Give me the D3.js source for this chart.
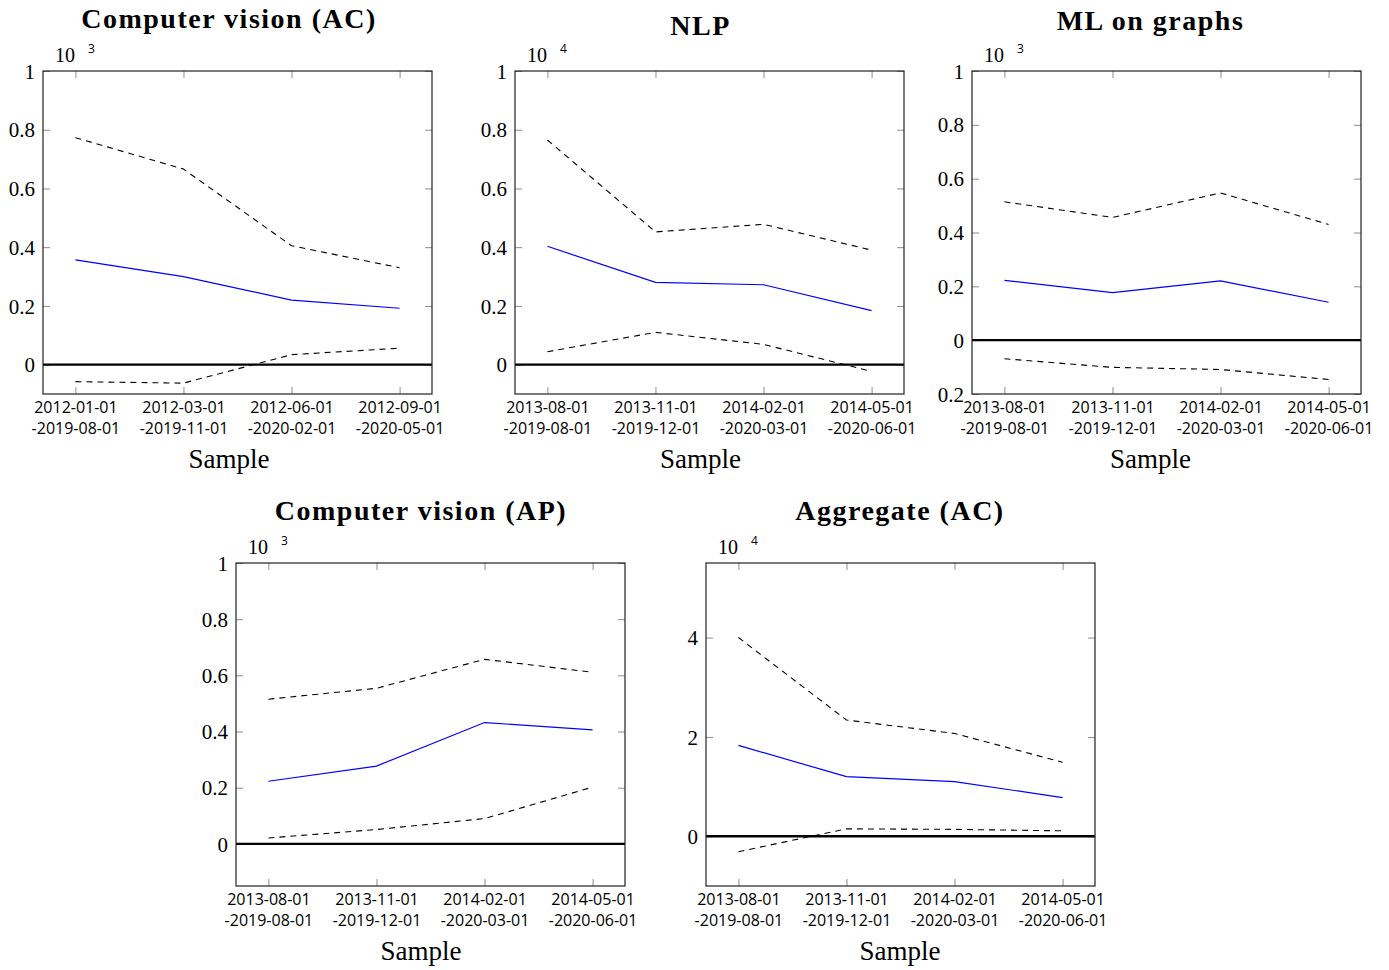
<!DOCTYPE html>
<html>
<head>
<meta charset="utf-8">
<script src="https://cdn.jsdelivr.net/npm/d3@7"></script>
<style>
  body { margin: 0; background: #fff; }
  svg { display: block; }
  .tick line { stroke: #8c8c8c; stroke-width: 1; }
</style>
</head>
<body>
<div id="chart"></div>
<script>
// ---- data ----
const cvAcStart = ["2012-01-01", "2012-03-01", "2012-06-01", "2012-09-01"];
const cvAcEnd   = ["-2019-08-01", "-2019-11-01", "-2020-02-01", "-2020-05-01"];
const otherStart = ["2013-08-01", "2013-11-01", "2014-02-01", "2014-05-01"];
const otherEnd   = ["-2019-08-01", "-2019-12-01", "-2020-03-01", "-2020-06-01"];

const cvAcMean  = [0.357, 0.300, 0.220, 0.192];
const cvAcUpper = [0.773, 0.666, 0.405, 0.330];
const cvAcLower = [-0.058, -0.063, 0.034, 0.056];

const nlpMean  = [0.403, 0.280, 0.272, 0.184];
const nlpUpper = [0.765, 0.452, 0.478, 0.390];
const nlpLower = [0.044, 0.110, 0.069, -0.023];

const graphMean  = [0.222, 0.177, 0.220, 0.141];
const graphUpper = [0.514, 0.456, 0.547, 0.430];
const graphLower = [-0.069, -0.101, -0.109, -0.146];

const cvApMean  = [0.223, 0.277, 0.432, 0.406];
const cvApUpper = [0.515, 0.554, 0.657, 0.611];
const cvApLower = [0.021, 0.051, 0.090, 0.202];

const aggMean  = [1.83, 1.20, 1.10, 0.78];
const aggUpper = [4.00, 2.34, 2.07, 1.49];
const aggLower = [-0.31, 0.15, 0.14, 0.11];

const yTicksUnit = [0, 0.2, 0.4, 0.6, 0.8, 1];
const yLabelsUnit = ["0", "0.2", "0.4", "0.6", "0.8", "1"];
const yTicksGraph = [-0.2, 0, 0.2, 0.4, 0.6, 0.8, 1];
const yLabelsGraph = ["0.2", "0", "0.2", "0.4", "0.6", "0.8", "1"];
const yTicksAgg = [0, 2, 4];
const yLabelsAgg = ["0", "2", "4"];

// ---- layout ----
const boxW = 389, boxH = 323;
const serif = "Liberation Serif, DejaVu Serif, serif";
const sans = "Open Sans, DejaVu Sans, sans-serif";

const panels = [
  { title: "Computer vision (AC)", left: 43,  top: 71,  titleX: 229,   titleDy: -43, exp: "3",
    yDomain: [-0.1, 1], yTicks: yTicksUnit, yLabels: yLabelsUnit,
    start: cvAcStart, end: cvAcEnd, mean: cvAcMean, upper: cvAcUpper, lower: cvAcLower },
  { title: "NLP", left: 515, top: 71, titleX: 700.5, titleDy: -36, exp: "4",
    yDomain: [-0.1, 1], yTicks: yTicksUnit, yLabels: yLabelsUnit,
    start: otherStart, end: otherEnd, mean: nlpMean, upper: nlpUpper, lower: nlpLower },
  { title: "ML on graphs", left: 972, top: 71, titleX: 1150.5, titleDy: -41, exp: "3",
    yDomain: [-0.2, 1], yTicks: yTicksGraph, yLabels: yLabelsGraph,
    start: otherStart, end: otherEnd, mean: graphMean, upper: graphUpper, lower: graphLower },
  { title: "Computer vision (AP)", left: 236, top: 563, titleX: 421, titleDy: -43, exp: "3",
    yDomain: [-0.15, 1], yTicks: yTicksUnit, yLabels: yLabelsUnit,
    start: otherStart, end: otherEnd, mean: cvApMean, upper: cvApUpper, lower: cvApLower },
  { title: "Aggregate (AC)", left: 706, top: 563, titleX: 900, titleDy: -43, exp: "4",
    yDomain: [-1, 5.5], yTicks: yTicksAgg, yLabels: yLabelsAgg,
    start: otherStart, end: otherEnd, mean: aggMean, upper: aggUpper, lower: aggLower }
];

const svg = d3.select("#chart").append("svg")
    .attr("width", 1389)
    .attr("height", 970);

panels.forEach(function(p) {
  const x = d3.scaleLinear().domain([-0.3, 3.3]).range([0, boxW]);
  const y = d3.scaleLinear().domain(p.yDomain).range([boxH, 0]);
  const idx = d3.range(p.mean.length);

  const g = svg.append("g").attr("transform", "translate(" + p.left + "," + p.top + ")");

  // title
  svg.append("text")
      .attr("x", p.titleX)
      .attr("y", p.top + p.titleDy)
      .attr("text-anchor", "middle")
      .attr("font-family", serif)
      .attr("font-weight", "bold")
      .attr("font-size", 28)
      .attr("letter-spacing", 1.5)
      .attr("fill", "#000")
      .text(p.title);

  // exponent
  g.append("text")
      .attr("x", 12).attr("y", -9)
      .attr("font-family", serif).attr("font-size", 20)
      .attr("fill", "#000")
      .text("10");
  g.append("text")
      .attr("x", 45).attr("y", -18)
      .attr("font-family", sans).attr("font-size", 12)
      .attr("fill", "#000")
      .text(p.exp);

  // ticks
  const yL = g.append("g")
      .call(d3.axisLeft(y).tickValues(p.yTicks).tickSize(-7).tickPadding(8)
        .tickFormat(function(d, i) { return p.yLabels[i]; }));
  yL.select(".domain").remove();
  yL.attr("font-family", serif).attr("font-size", 21);
  yL.selectAll("text").attr("fill", "#000").attr("dy", "0.34em");

  const yR = g.append("g").attr("transform", "translate(" + boxW + ",0)")
      .call(d3.axisRight(y).tickValues(p.yTicks).tickSize(-7).tickFormat(""));
  yR.select(".domain").remove();

  const xT = g.append("g")
      .call(d3.axisTop(x).tickValues(idx).tickSize(-7).tickFormat(""));
  xT.select(".domain").remove();

  const xB = g.append("g").attr("transform", "translate(0," + boxH + ")")
      .call(d3.axisBottom(x).tickValues(idx).tickSize(-7).tickFormat(""));
  xB.select(".domain").remove();
  xB.selectAll(".tick text").remove();
  xB.attr("font-family", sans).attr("font-size", 16);
  const lab = xB.selectAll(".tick").append("text")
      .attr("text-anchor", "middle")
      .attr("fill", "#000");
  lab.append("tspan").attr("x", 0).attr("y", 19).text(function(d) { return p.start[d]; });
  lab.append("tspan").attr("x", 0).attr("y", 40).text(function(d) { return p.end[d]; });

  // zero line
  g.append("line")
      .attr("x1", 0).attr("x2", boxW)
      .attr("y1", y(0)).attr("y2", y(0))
      .attr("stroke", "#000").attr("stroke-width", 2.4);

  // series
  const line = function(vals) {
    return d3.line().x(function(i) { return x(i); }).y(function(i) { return y(vals[i]); })(idx);
  };
  g.append("path").attr("d", line(p.upper))
      .attr("fill", "none").attr("stroke", "#000").attr("stroke-width", 1.1)
      .attr("stroke-dasharray", "6,5");
  g.append("path").attr("d", line(p.lower))
      .attr("fill", "none").attr("stroke", "#000").attr("stroke-width", 1.1)
      .attr("stroke-dasharray", "6,5");
  g.append("path").attr("d", line(p.mean))
      .attr("fill", "none").attr("stroke", "#0000ff").attr("stroke-width", 1.2);

  // frame
  g.append("rect")
      .attr("width", boxW).attr("height", boxH)
      .attr("fill", "none").attr("stroke", "#222").attr("stroke-width", 1.2);

  // axis label
  svg.append("text")
      .attr("x", p.titleX)
      .attr("y", p.top + boxH + 74)
      .attr("text-anchor", "middle")
      .attr("font-family", serif)
      .attr("font-size", 27)
      .attr("fill", "#000")
      .text("Sample");
});
</script>
</body>
</html>
